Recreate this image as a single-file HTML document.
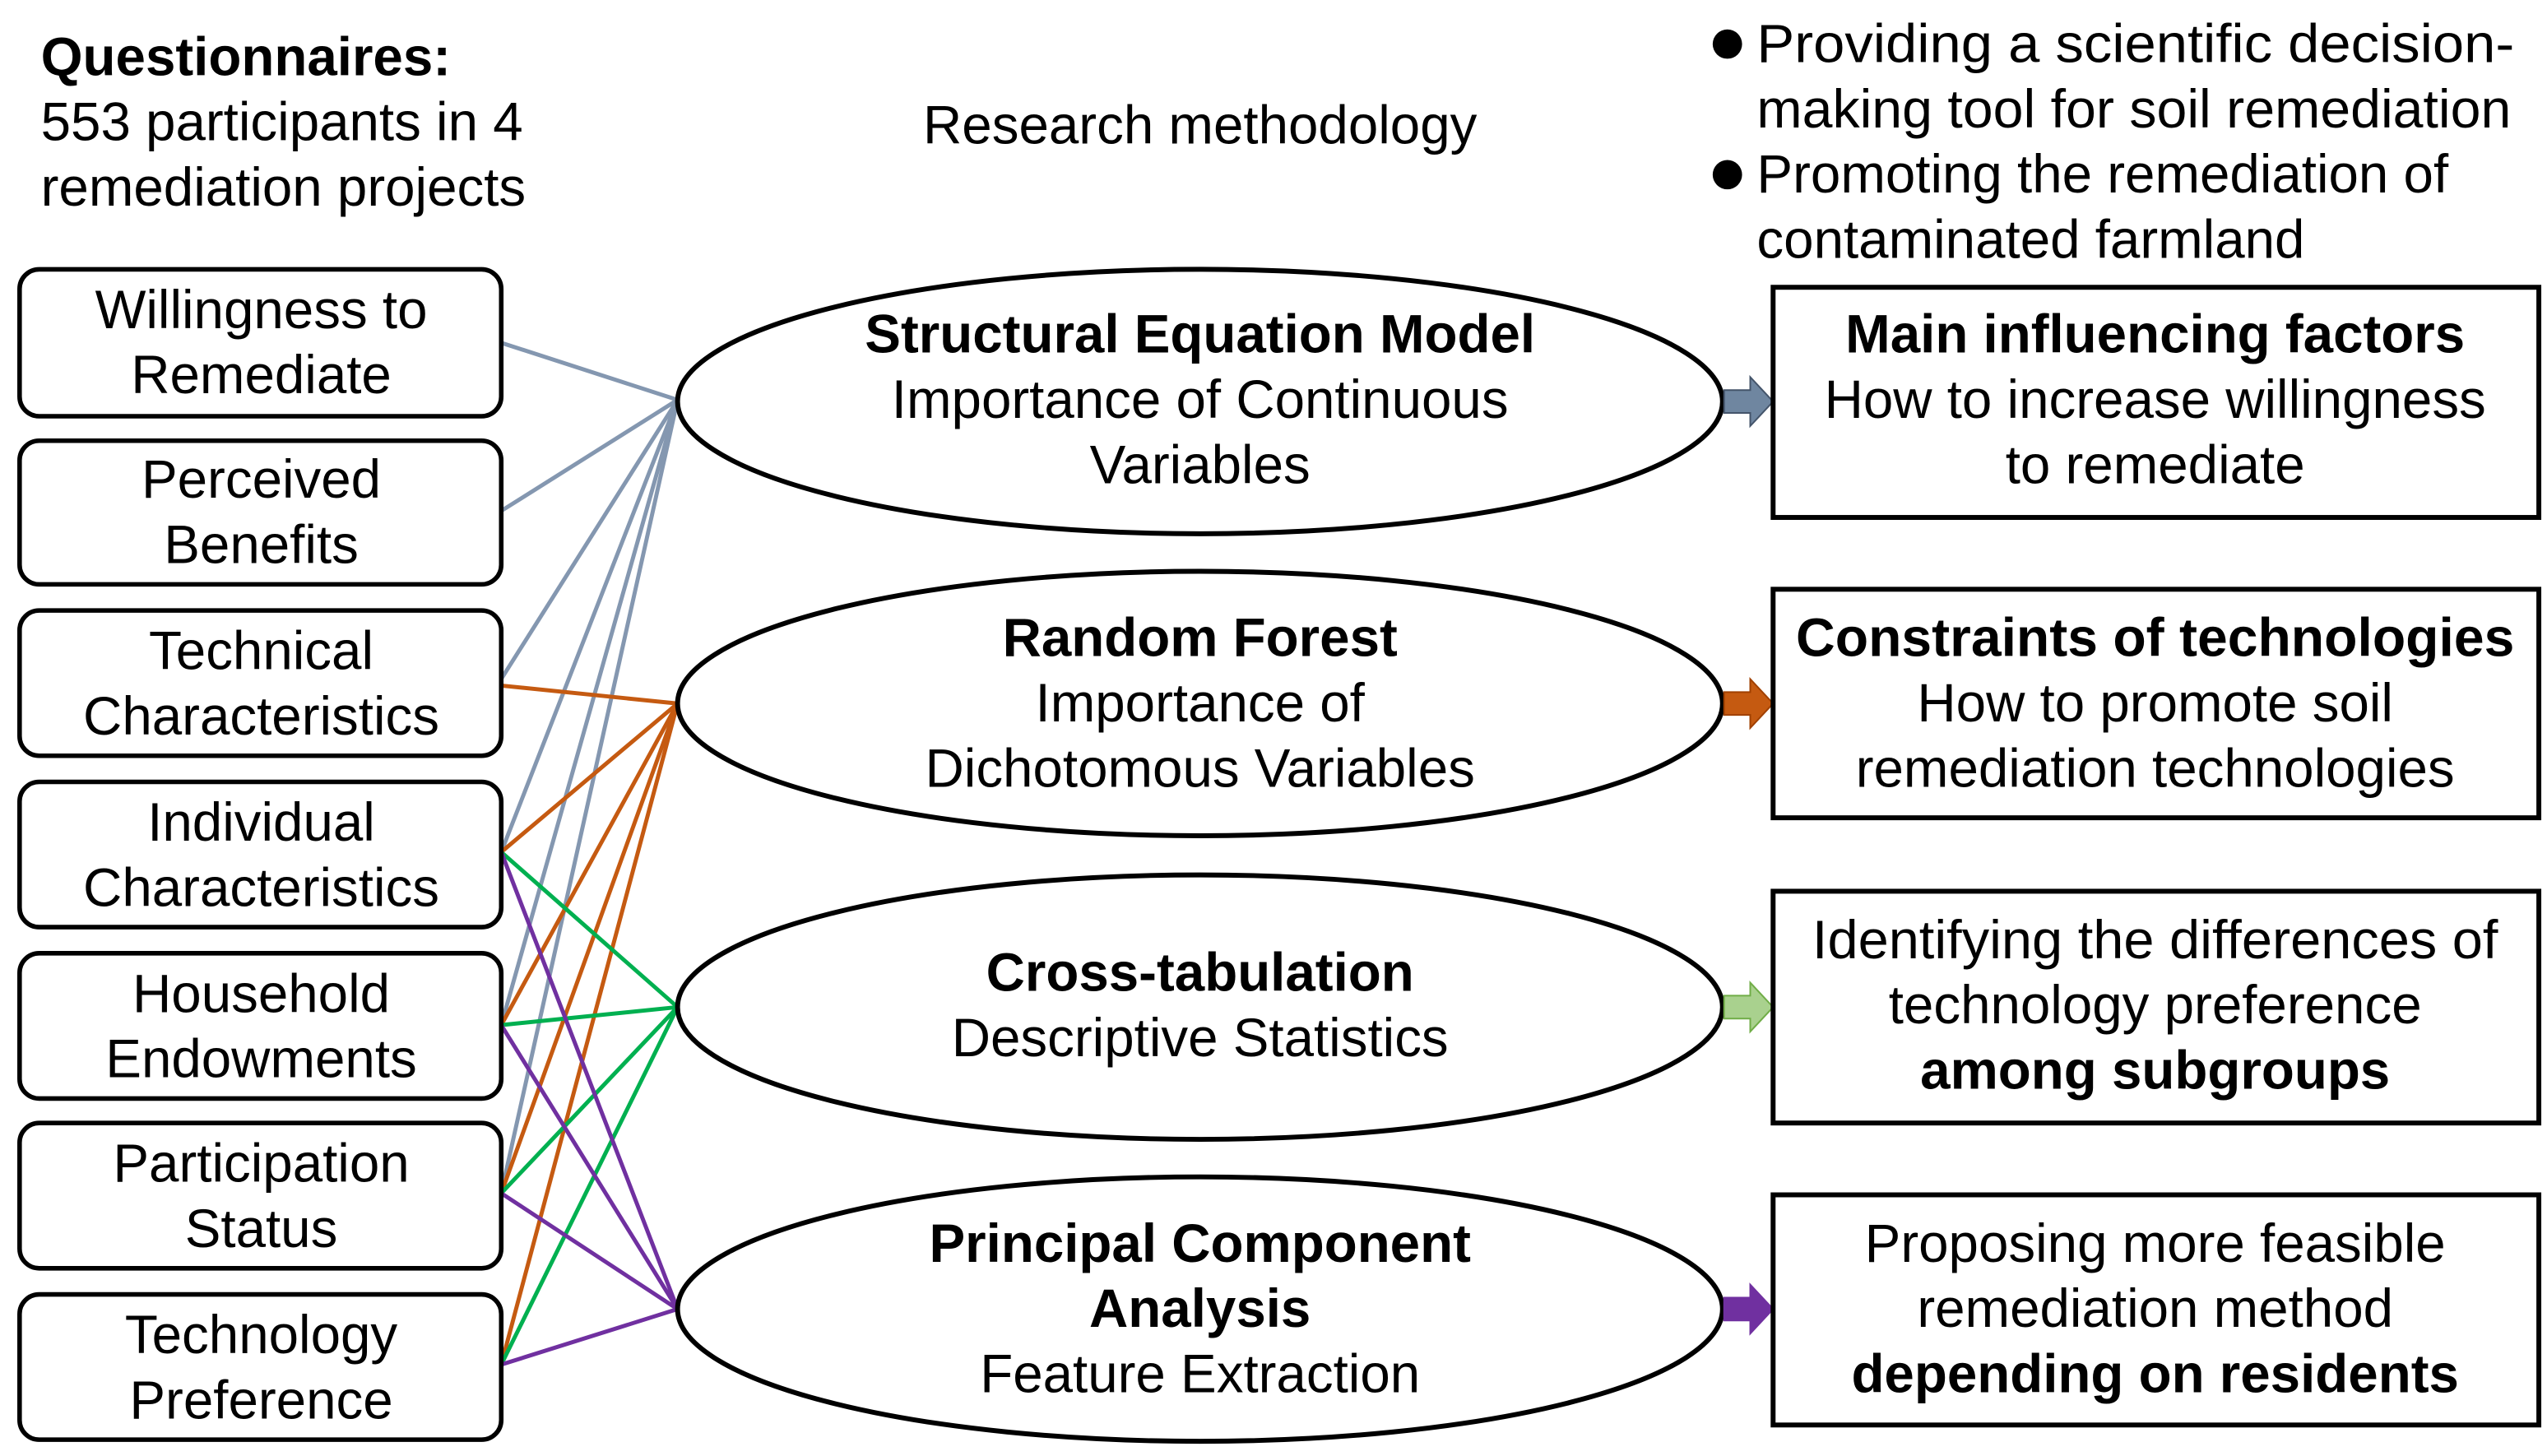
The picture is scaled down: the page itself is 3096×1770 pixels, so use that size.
<!DOCTYPE html>
<html><head><meta charset="utf-8"><style>
html,body{margin:0;padding:0;background:#fff;}
svg{display:block;}
text{font-family:"Liberation Sans",Arial,sans-serif;fill:#000;}
</style></head><body>
<svg width="3096" height="1770" viewBox="0 0 1560 892" preserveAspectRatio="none" xmlns="http://www.w3.org/2000/svg">
<g font-size="33">
<text x="25" y="46" font-weight="bold">Questionnaires:</text>
<text x="25" y="86">553 participants in 4</text>
<text x="25" y="126">remediation projects</text>
<text x="735" y="88" text-anchor="middle">Research methodology</text>
<circle cx="1058" cy="27" r="9"/><circle cx="1058" cy="107" r="9"/>
<text x="1076" y="38" textLength="464" lengthAdjust="spacingAndGlyphs">Providing a scientific decision-</text>
<text x="1076" y="78" textLength="462" lengthAdjust="spacingAndGlyphs">making tool for soil remediation</text>
<text x="1076" y="118">Promoting the remediation of</text>
<text x="1076" y="158">contaminated farmland</text>
</g>
<g stroke-width="2.5" fill="none">
<g stroke="#8497b0">
<line x1="307" y1="210" x2="415" y2="245"/><line x1="307" y1="313" x2="415" y2="245"/>
<line x1="307" y1="416" x2="415" y2="245"/><line x1="307" y1="522" x2="415" y2="245"/>
<line x1="307" y1="628" x2="415" y2="245"/><line x1="307" y1="731" x2="415" y2="245"/>
</g>
<g stroke="#c55a11">
<line x1="307" y1="420" x2="415" y2="431"/><line x1="307" y1="522" x2="415" y2="431"/>
<line x1="307" y1="628" x2="415" y2="431"/><line x1="307" y1="731" x2="415" y2="431"/>
<line x1="307" y1="836" x2="415" y2="431"/>
</g>
<g stroke="#00b050">
<line x1="307" y1="522" x2="415" y2="617"/><line x1="307" y1="628" x2="415" y2="617"/>
<line x1="307" y1="731" x2="415" y2="617"/><line x1="307" y1="836" x2="415" y2="617"/>
</g>
<g stroke="#7030a0">
<line x1="307" y1="522" x2="415" y2="802"/><line x1="307" y1="628" x2="415" y2="802"/>
<line x1="307" y1="731" x2="415" y2="802"/><line x1="307" y1="836" x2="415" y2="802"/>
</g>
</g>
<g fill="#fff" stroke="#000" stroke-width="2.8">
<rect x="12" y="165" width="295" height="90" rx="12"/>
<rect x="12" y="270" width="295" height="88" rx="12"/>
<rect x="12" y="374" width="295" height="89" rx="12"/>
<rect x="12" y="479" width="295" height="89" rx="12"/>
<rect x="12" y="584" width="295" height="89" rx="12"/>
<rect x="12" y="688" width="295" height="89" rx="12"/>
<rect x="12" y="793" width="295" height="89" rx="12"/>
</g>
<g font-size="33" text-anchor="middle">
<text x="160" y="201">Willingness to</text><text x="160" y="241">Remediate</text>
<text x="160" y="305">Perceived</text><text x="160" y="345">Benefits</text>
<text x="160" y="410">Technical</text><text x="160" y="450">Characteristics</text>
<text x="160" y="515">Individual</text><text x="160" y="555">Characteristics</text>
<text x="160" y="620">Household</text><text x="160" y="660">Endowments</text>
<text x="160" y="724">Participation</text><text x="160" y="764">Status</text>
<text x="160" y="829">Technology</text><text x="160" y="869">Preference</text>
</g>
<g fill="#fff" stroke="#000" stroke-width="3">
<ellipse cx="735" cy="246" rx="320" ry="81"/>
<ellipse cx="735" cy="431" rx="320" ry="81"/>
<ellipse cx="735" cy="617" rx="320" ry="81"/>
<ellipse cx="735" cy="802" rx="320" ry="81"/>
</g>
<g font-size="33" text-anchor="middle">
<text x="735" y="216" font-weight="bold">Structural Equation Model</text>
<text x="735" y="256">Importance of Continuous</text><text x="735" y="296">Variables</text>
<text x="735" y="402" font-weight="bold">Random Forest</text>
<text x="735" y="442">Importance of</text><text x="735" y="482">Dichotomous Variables</text>
<text x="735" y="607" font-weight="bold">Cross-tabulation</text>
<text x="735" y="647">Descriptive Statistics</text>
<text x="735" y="773" font-weight="bold">Principal Component</text>
<text x="735" y="813" font-weight="bold">Analysis</text>
<text x="735" y="853">Feature Extraction</text>
</g>
<g stroke-width="1">
<polygon points="1056,239 1072,239 1072,231 1086,246 1072,261 1072,253 1056,253" fill="#6f86a0" stroke="#44546a"/>
<polygon points="1056,424 1072,424 1072,416 1086,431 1072,446 1072,438 1056,438" fill="#c55a11" stroke="#a04000"/>
<polygon points="1056,610 1072,610 1072,602 1086,617 1072,632 1072,624 1056,624" fill="#a9d18e" stroke="#70ad47"/>
<polygon points="1056,795 1072,795 1072,787 1086,802 1072,817 1072,809 1056,809" fill="#7030a0" stroke="#7030a0"/>
</g>
<g fill="#fff" stroke="#000" stroke-width="3">
<rect x="1086" y="176" width="469" height="141"/>
<rect x="1086" y="361" width="469" height="140"/>
<rect x="1086" y="546" width="469" height="142"/>
<rect x="1086" y="732" width="469" height="141"/>
</g>
<g font-size="33" text-anchor="middle">
<text x="1320" y="216" font-weight="bold">Main influencing factors</text>
<text x="1320" y="256">How to increase willingness</text><text x="1320" y="296">to remediate</text>
<text x="1320" y="402" font-weight="bold" textLength="440" lengthAdjust="spacingAndGlyphs">Constraints of technologies</text>
<text x="1320" y="442">How to promote soil</text><text x="1320" y="482">remediation technologies</text>
<text x="1320" y="587" textLength="420" lengthAdjust="spacingAndGlyphs">Identifying the differences of</text>
<text x="1320" y="627">technology preference</text>
<text x="1320" y="667" font-weight="bold">among subgroups</text>
<text x="1320" y="773">Proposing more feasible</text>
<text x="1320" y="813">remediation method</text>
<text x="1320" y="853" font-weight="bold">depending on residents</text>
</g>
</svg>
</body></html>
